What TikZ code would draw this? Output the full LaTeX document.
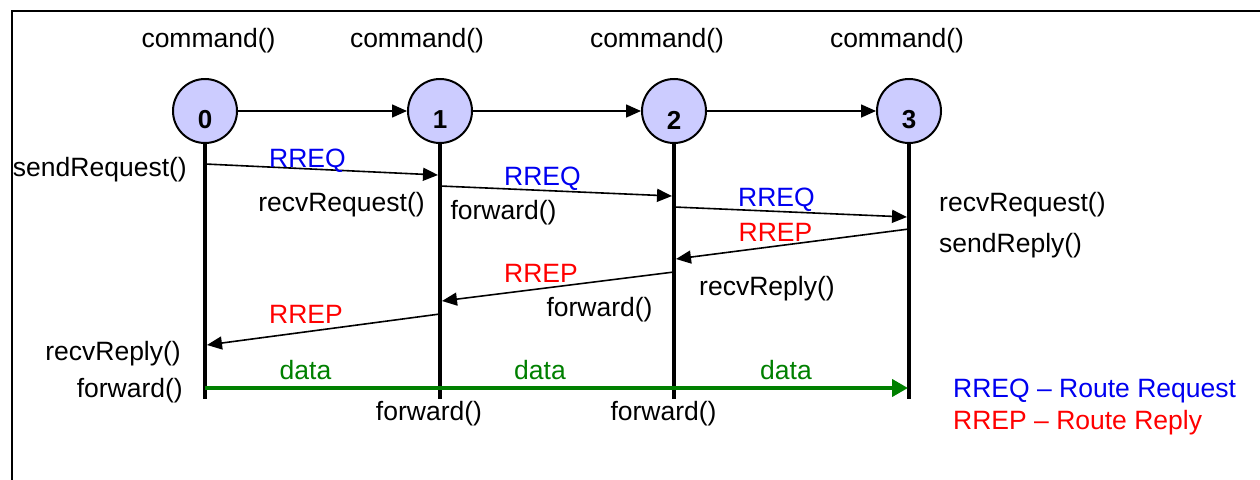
\documentclass[tikz,border=0pt]{standalone}
\usepackage{fontspec}
\setmainfont{Liberation Sans}
\usetikzlibrary{arrows.meta}
\definecolor{nodefill}{RGB}{204,204,255}
\definecolor{reqblue}{RGB}{0,0,240}
\definecolor{repred}{RGB}{255,0,0}
\definecolor{datagreen}{RGB}{0,128,0}
\begin{document}
\begin{tikzpicture}[x=1pt,y=-1pt,
  font=\fontsize{26.5}{31}\selectfont,
  station/.style={circle,draw=black,line width=2pt,fill=nodefill,
    minimum size=64pt,inner sep=0pt},
  numlbl/.style={font=\bfseries\fontsize{26}{31}\selectfont,yshift=-9pt},
  lifeline/.style={line width=4pt},
  msg/.style={line width=1.6pt,-{Triangle[length=15pt,width=13pt]}},
  datamsg/.style={draw=datagreen,line width=4pt,-{Triangle[length=16pt,width=17pt]}},
  txt/.style={inner sep=0pt,anchor=base},
  txtl/.style={inner sep=0pt,anchor=base west},
  txtr/.style={inner sep=0pt,anchor=base east},
  req/.style={txt,text=reqblue},
  rep/.style={txt,text=repred},
  dat/.style={txt,text=datagreen}]
\useasboundingbox (0,0) rectangle (1260,479);
\clip (0,0) rectangle (1260,479);

% frame, running past the right and bottom edges
\draw[line width=2.4pt] (12,11) rectangle (1290,500);

% stations
\node[station,label={[numlbl]center:0}] (n0) at (205,111) {};
\node[station,label={[numlbl]center:1}] (n1) at (440,111) {};
\node[station,label={[numlbl]center:2}] (n2) at (674,111) {};
\node[station,label={[numlbl]center:3}] (n3) at (909,111) {};

\draw[msg] (n0) -- (n1);
\draw[msg] (n1) -- (n2);
\draw[msg] (n2) -- (n3);

% lifelines
\coordinate (e0) at (205,399);
\coordinate (e1) at (440,399);
\coordinate (e2) at (674,399);
\coordinate (e3) at (909,399);
\draw[lifeline] (n0.south) -- (e0);
\draw[lifeline] (n1.south) -- (e1);
\draw[lifeline] (n2.south) -- (e2);
\draw[lifeline] (n3.south) -- (e3);

% route request
\coordinate (q1s) at (205,164); \coordinate (q1e) at (438,175);
\coordinate (q2s) at (440,186); \coordinate (q2e) at (672,196);
\coordinate (q3s) at (674,207); \coordinate (q3e) at (907,217);
\draw[msg] (q1s) -- (q1e);
\draw[msg] (q2s) -- (q2e);
\draw[msg] (q3s) -- (q3e);

% route reply
\coordinate (p1s) at (909,229); \coordinate (p1e) at (676,259);
\coordinate (p2s) at (674,272); \coordinate (p2e) at (442,301);
\coordinate (p3s) at (440,314); \coordinate (p3e) at (207,345);
\draw[msg] (p1s) -- (p1e);
\draw[msg] (p2s) -- (p2e);
\draw[msg] (p3s) -- (p3e);

% data
\coordinate (d0) at (205,388); \coordinate (d3) at (908,388);
\draw[datamsg] (d0) -- (d3);

% method calls
\node[txt] (c0) at (208.5,47) {command()};
\node[txt] (c1) at (417,47) {command()};
\node[txt] (c2) at (657,47) {command()};
\node[txt] (c3) at (897,47) {command()};

\node[txtr] (t1) at (187,176) {sendRequest()};
\node[txt]  (t2) at (341.5,211) {recvRequest()};
\node[txt]  (t3) at (503.5,219) {forward()};
\node[txtl] (t4) at (939,211) {recvRequest()};
\node[txtl] (t5) at (939,252) {sendReply()};
\node[txtl] (t6) at (699,295.5) {recvReply()};
\node[txt]  (t7) at (599.5,316) {forward()};
\node[txtr] (t8) at (181,360) {recvReply()};
\node[txtr] (t9) at (183,397) {forward()};
\node[txt]  (t10) at (429,420) {forward()};
\node[txt]  (t11) at (663.5,420) {forward()};

% message labels
\node[req] (r1) at (307.5,167) {RREQ};
\node[req] (r2) at (542.5,185.5) {RREQ};
\node[req] (r3) at (776.5,206.5) {RREQ};
\node[rep] (s1) at (775.5,241.5) {RREP};
\node[rep] (s2) at (541,282.5) {RREP};
\node[rep] (s3) at (306,323.5) {RREP};
\node[dat] (g1) at (305.5,379) {data};
\node[dat] (g2) at (540,379) {data};
\node[dat] (g3) at (786,379) {data};

% legend
\node[txtl,text=reqblue] (k1) at (953,397.5) {RREQ – Route Request};
\node[txtl,text=repred]  (k2) at (953,429) {RREP – Route Reply};
\end{tikzpicture}
\end{document}
